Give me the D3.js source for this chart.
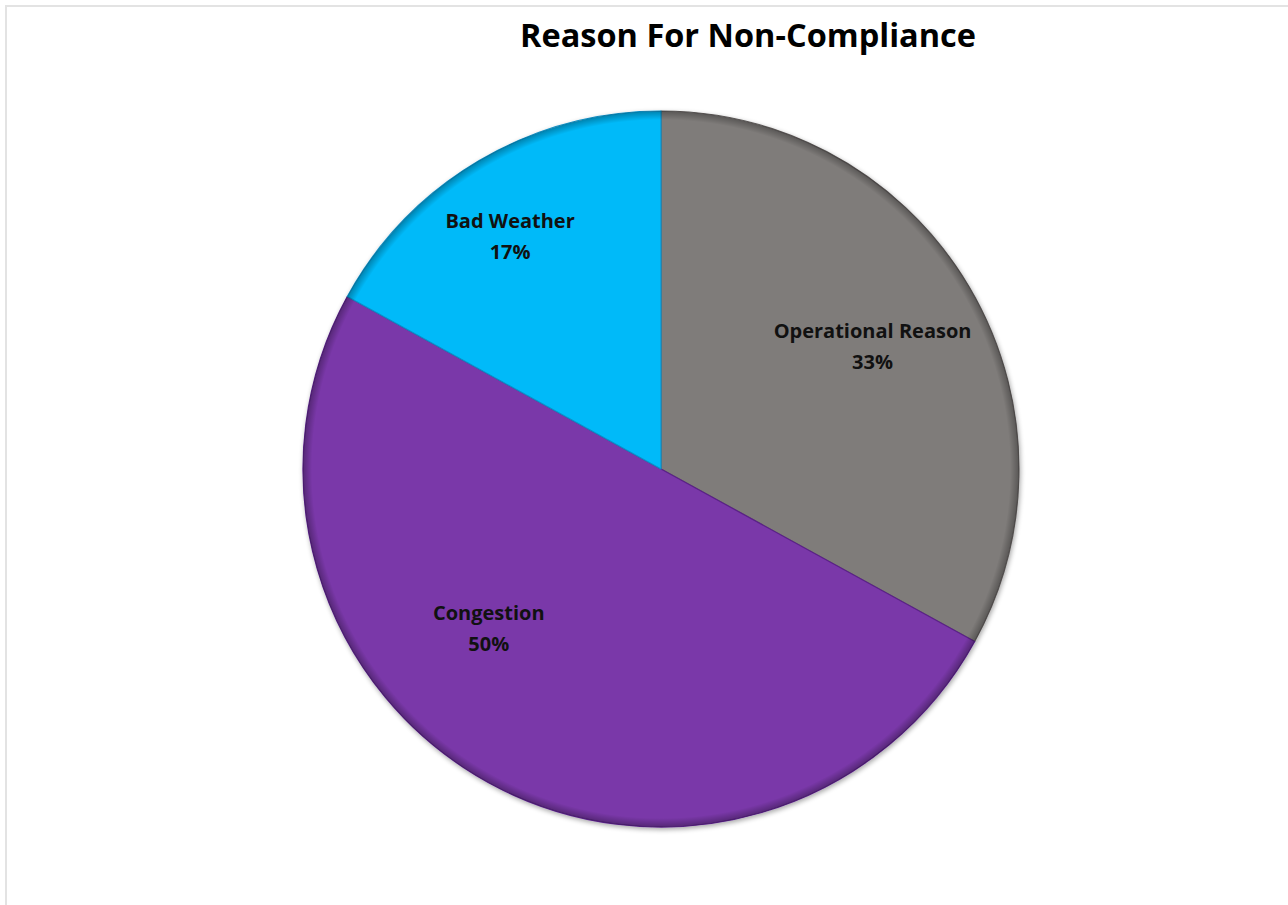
<!DOCTYPE html>
<html>
<head>
<meta charset="utf-8">
<script src="https://cdn.jsdelivr.net/npm/d3@7"></script>
<style>
  body { margin: 0; background: #fff; }
  svg { display: block; }
</style>
</head>
<body>
<svg width="1288" height="905"></svg>
<script>
// chart data
var categories = ["Operational Reason", "Congestion", "Bad Weather"],
    shares = [33, 50, 17],
    shareLabels = ["33%", "50%", "17%"];

var colors = { "Operational Reason": "#7f7b7a", "Congestion": "#7a37a9", "Bad Weather": "#03baf9" },
    rimColors = { "Operational Reason": "#5f5b5a", "Congestion": "#5a2288", "Bad Weather": "#0a90c8" },
    // Excel's best-fit labels are nudged away from the plain centroid
    labelNudge = { "Operational Reason": [2, 0], "Congestion": [-55, -55], "Bad Weather": [-27, -24] };

var svg = d3.select("svg"),
    cx = 661, cy = 469, radius = 358,
    fontFam = "'Open Sans', Lato, 'DejaVu Sans', sans-serif";

// frame
svg.append("rect")
    .attr("x", 6).attr("y", 6)
    .attr("width", 1300).attr("height", 920)
    .attr("fill", "none")
    .attr("stroke", "#e3e3e3")
    .attr("stroke-width", 2);

// title
svg.append("text")
    .attr("x", 748)
    .attr("y", 47)
    .attr("text-anchor", "middle")
    .style("font-family", fontFam)
    .style("font-weight", "bold")
    .style("font-size", "32.5px")
    .attr("fill", "#000")
    .text("Reason For Non-Compliance");

var data = categories.map(function(c, i) { return { name: c, value: shares[i], label: shareLabels[i] }; });

var pie = d3.pie().sort(null).value(function(d) { return d.value; });
var arc = d3.arc().innerRadius(0).outerRadius(radius);
var labelArc = d3.arc().innerRadius(radius * 0.68).outerRadius(radius * 0.68);

var defs = svg.append("defs");
var shadow = defs.append("filter").attr("id", "shadow")
    .attr("x", "-10%").attr("y", "-10%").attr("width", "120%").attr("height", "120%");
shadow.append("feGaussianBlur").attr("in", "SourceAlpha").attr("stdDeviation", 2.5);
shadow.append("feOffset").attr("dx", 1).attr("dy", 2).attr("result", "b");
shadow.append("feComponentTransfer").append("feFuncA").attr("type", "linear").attr("slope", 0.35);
var merge = shadow.append("feMerge");
merge.append("feMergeNode");
merge.append("feMergeNode").attr("in", "SourceGraphic");

// rim shading: darker at the very outer edge
var rim = defs.append("radialGradient").attr("id", "rim")
    .attr("gradientUnits", "userSpaceOnUse")
    .attr("cx", cx).attr("cy", cy).attr("r", radius);
rim.append("stop").attr("offset", "0.975").attr("stop-color", "#000").attr("stop-opacity", 0);
rim.append("stop").attr("offset", "1").attr("stop-color", "#000").attr("stop-opacity", 0.3);

var g = svg.append("g")
    .attr("transform", "translate(" + cx + "," + cy + ")");

var slices = g.append("g").attr("filter", "url(#shadow)");

slices.selectAll("path.slice")
    .data(pie(data))
    .enter().append("path")
      .attr("class", "slice")
      .attr("d", arc)
      .attr("fill", function(d) { return colors[d.data.name]; })
      .attr("stroke", function(d) { return rimColors[d.data.name]; })
      .attr("stroke-width", 1.2)
      .attr("stroke-linejoin", "round");

// outer rim overlay
g.append("circle")
    .attr("r", radius)
    .attr("transform", "translate(" + (-cx) + "," + (-cy) + ")")
    .attr("cx", cx).attr("cy", cy)
    .attr("fill", "url(#rim)")
    .style("pointer-events", "none");

// labels
var labels = g.selectAll("g.lbl")
    .data(pie(data))
    .enter().append("g")
      .attr("class", "lbl")
      .attr("transform", function(d) {
        var c = labelArc.centroid(d), n = labelNudge[d.data.name];
        return "translate(" + (c[0] + n[0]) + "," + (c[1] + n[1]) + ")";
      });

labels.append("text")
    .attr("text-anchor", "middle")
    .attr("y", -7)
    .style("font-family", fontFam)
    .style("font-weight", "bold")
    .style("font-size", "20px")
    .attr("fill", "#111")
    .text(function(d) { return d.data.name; });

labels.append("text")
    .attr("text-anchor", "middle")
    .attr("y", 24)
    .style("font-family", fontFam)
    .style("font-weight", "bold")
    .style("font-size", "20px")
    .attr("fill", "#111")
    .text(function(d) { return d.data.label; });
</script>
</body>
</html>
